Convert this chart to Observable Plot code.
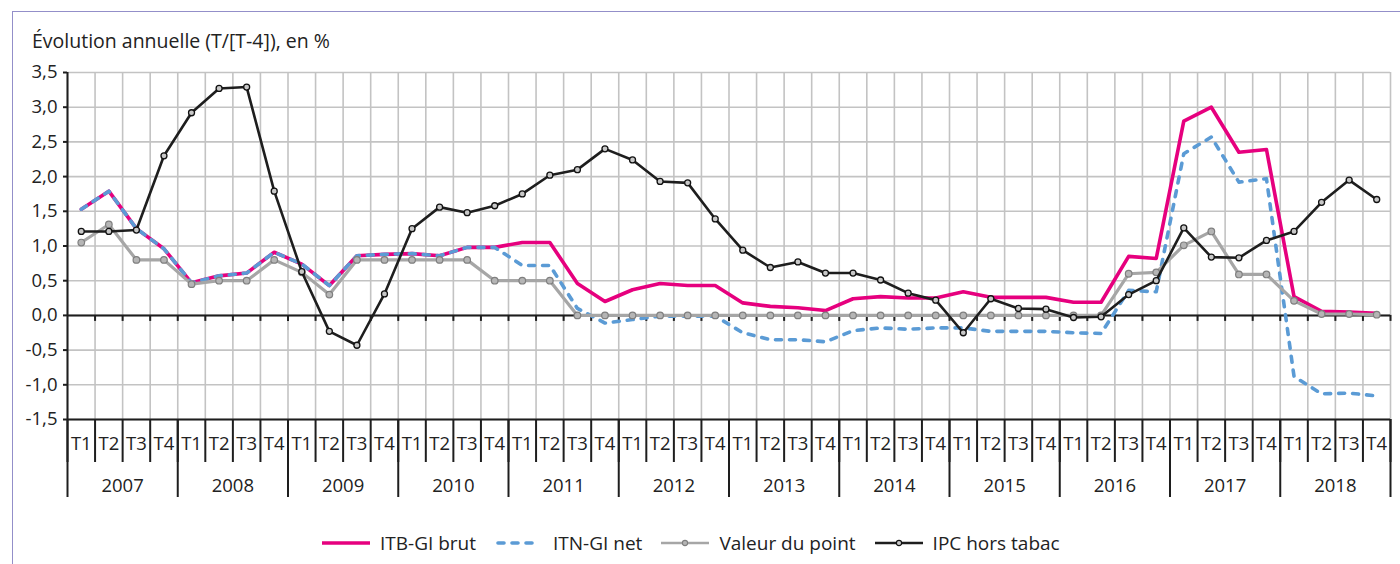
<!DOCTYPE html>
<html>
<head>
<meta charset="utf-8">
<script src="https://cdn.jsdelivr.net/npm/d3@7"></script>
<script src="https://cdn.jsdelivr.net/npm/@observablehq/plot@0.6"></script>
<style>
  html, body { margin: 0; padding: 0; background: #fff; }
  #wrap { position: relative; width: 1400px; height: 564px; overflow: hidden; font-family: "Open Sans", Lato, sans-serif; color: #222; }
  #frame { position: absolute; left: 12px; top: 11px; width: 1420px; height: 620px; border: 1.5px solid #938fc9; box-sizing: border-box; }
  #title { position: absolute; left: 32px; top: 29px; font-size: 19.5px; line-height: 24px; white-space: nowrap; }
  #chart { position: absolute; left: 0; top: 56px; }
  #legend { position: absolute; left: 322px; top: 531px; display: flex; align-items: center; gap: 19px; font-size: 19px; line-height: 24px; white-space: nowrap; }
  #legend .item { display: flex; align-items: center; gap: 10px; }
  #legend svg { display: block; }
</style>
</head>
<body>
<div id="wrap">
  <div id="frame"></div>
  <div id="title">Évolution annuelle (T/[T-4]), en %</div>
  <div id="chart"></div>
  <div id="legend"></div>
</div>
<script>
const years = ["2007","2008","2009","2010","2011","2012","2013","2014","2015","2016","2017","2018"];
const quarters = ["T1","T2","T3","T4"];
const yTicks = [-1.5, -1.0, -0.5, 0.0, 0.5, 1.0, 1.5, 2.0, 2.5, 3.0, 3.5];

const seriesNames = ["ITB-GI brut", "ITN-GI net", "Valeur du point", "IPC hors tabac"];

const itbBrut = [
  1.53, 1.79, 1.25, 0.96,
  0.47, 0.57, 0.61, 0.91,
  0.74, 0.43, 0.86, 0.88,
  0.89, 0.86, 0.98, 0.98,
  1.05, 1.05, 0.46, 0.20,
  0.37, 0.46, 0.43, 0.43,
  0.18, 0.13, 0.11, 0.07,
  0.24, 0.27, 0.25, 0.25,
  0.34, 0.26, 0.26, 0.26,
  0.19, 0.19, 0.85, 0.82,
  2.80, 3.00, 2.35, 2.39,
  0.27, 0.06, 0.05, 0.03
];
const itnNet = [
  1.53, 1.79, 1.25, 0.96,
  0.47, 0.57, 0.61, 0.91,
  0.74, 0.43, 0.86, 0.88,
  0.89, 0.86, 0.98, 0.98,
  0.72, 0.72, 0.10, -0.11,
  -0.06, -0.01, -0.01, -0.01,
  -0.25, -0.35, -0.35, -0.38,
  -0.22, -0.18, -0.20, -0.18,
  -0.18, -0.23, -0.23, -0.23,
  -0.25, -0.26, 0.36, 0.34,
  2.33, 2.57, 1.92, 1.97,
  -0.88, -1.13, -1.12, -1.16
];
const valeurPoint = [
  1.05, 1.31, 0.80, 0.80,
  0.45, 0.50, 0.50, 0.80,
  0.62, 0.30, 0.80, 0.80,
  0.80, 0.80, 0.80, 0.50,
  0.50, 0.50, 0.00, 0.00,
  0.00, 0.00, 0.00, 0.00,
  0.00, 0.00, 0.00, 0.00,
  0.00, 0.00, 0.00, 0.00,
  0.00, 0.00, 0.00, 0.00,
  0.00, 0.00, 0.60, 0.62,
  1.01, 1.21, 0.59, 0.59,
  0.21, 0.02, 0.02, 0.01
];
const ipcHorsTabac = [
  1.21, 1.21, 1.23, 2.30,
  2.92, 3.27, 3.29, 1.79,
  0.63, -0.23, -0.43, 0.31,
  1.25, 1.56, 1.48, 1.58,
  1.75, 2.02, 2.10, 2.40,
  2.24, 1.93, 1.91, 1.39,
  0.94, 0.69, 0.77, 0.61,
  0.61, 0.51, 0.32, 0.22,
  -0.25, 0.24, 0.10, 0.09,
  -0.03, -0.02, 0.30, 0.50,
  1.26, 0.84, 0.83, 1.08,
  1.21, 1.63, 1.95, 1.67
];

const colors = { itb: "#e6007e", itn: "#5b9bd5", vdp: "#a6a6a6", ipc: "#1e1e1e" };

// build table
const rows = [];
years.forEach((yr, yi) => quarters.forEach((q, qi) => {
  const i = yi * quarters.length + qi;
  rows.push({ i, year: yr, q, itb: itbBrut[i], itn: itnNet[i], vdp: valeurPoint[i], ipc: ipcHorsTabac[i] });
}));
const nQ = rows.length;
const bounds = d3.range(nQ + 1);
const yearBounds = d3.range(years.length + 1).map(k => k * quarters.length);
const yearRows = years.map((y, k) => ({ y, c: k * quarters.length + quarters.length / 2 }));
const xc = d => d.i + 0.5;
const fmt = v => v.toFixed(1).replace(".", ",");

const plot = Plot.plot({
  width: 1400,
  height: 460,
  marginLeft: 67,
  marginRight: 10,
  marginTop: 16,
  marginBottom: 97,
  style: { fontFamily: "'Open Sans', Lato, sans-serif", fontSize: "18px", color: "#222", background: "transparent", overflow: "visible" },
  x: { domain: [0, nQ], axis: null, label: null },
  y: { domain: [yTicks[0], yTicks[yTicks.length - 1]], axis: null, label: null },
  marks: [
    Plot.ruleY(yTicks, { stroke: "#c3c3c3", strokeWidth: 1.6 }),
    Plot.ruleX(bounds, { stroke: "#c3c3c3", strokeWidth: 1.6 }),
    Plot.ruleY([yTicks[0]], { stroke: "#1e1e1e", strokeWidth: 2 }),
    Plot.ruleY([0], { stroke: "#1e1e1e", strokeWidth: 2 }),
    Plot.ruleX(bounds.slice(1), { y1: 0, y2: 0, insetBottom: -6, stroke: "#1e1e1e", strokeWidth: 2 }),
    Plot.ruleX([0], { stroke: "#1e1e1e", strokeWidth: 2 }),
    Plot.axisY(yTicks, { anchor: "left", label: null, tickSize: 4, tickPadding: 6, tickFormat: fmt, stroke: "#1e1e1e", strokeWidth: 2, fontSize: 18.5, fill: "#222" }),
    // series
    Plot.line(rows, { x: xc, y: "itb", stroke: colors.itb, strokeWidth: 3.6 }),
    Plot.line(rows, { x: xc, y: "itn", stroke: colors.itn, strokeWidth: 3.6, strokeDasharray: "6,8", strokeLinecap: "round" }),
    Plot.line(rows, { x: xc, y: "vdp", stroke: colors.vdp, strokeWidth: 3.2 }),
    Plot.dot(rows, { x: xc, y: "vdp", r: 3.3, fill: "#b5b5b5", stroke: "#7f7f7f", strokeWidth: 1.2 }),
    Plot.line(rows, { x: xc, y: "ipc", stroke: colors.ipc, strokeWidth: 2.6 }),
    Plot.dot(rows, { x: xc, y: "ipc", r: 3, fill: "#c8c8c8", stroke: "#111", strokeWidth: 1.3 }),
    // category axis
    Plot.axisX(bounds, { anchor: "bottom", label: null, tickSize: 43, tickFormat: () => "", stroke: "#1e1e1e", strokeWidth: 2 }),
    Plot.axisX(yearBounds, { anchor: "bottom", label: null, tickSize: 78, tickFormat: () => "", stroke: "#1e1e1e", strokeWidth: 2 }),
    Plot.text(rows, { x: xc, frameAnchor: "bottom", dy: 30, text: "q", fontSize: 18.5, fill: "#222" }),
    Plot.text(yearRows, { x: "c", frameAnchor: "bottom", dy: 72, text: "y", fontSize: 18.5, fill: "#222" })
  ]
});
document.getElementById("chart").appendChild(plot);

// legend
const legend = d3.select("#legend");
const items = [
  { name: seriesNames[0], color: colors.itb, w: 3.6, dash: null, marker: null },
  { name: seriesNames[1], color: colors.itn, w: 3.6, dash: "6,8", marker: null },
  { name: seriesNames[2], color: colors.vdp, w: 2.4, dash: null, marker: { fill: "#b5b5b5", stroke: "#7f7f7f" } },
  { name: seriesNames[3], color: colors.ipc, w: 2.6, dash: null, marker: { fill: "#c8c8c8", stroke: "#111" } }
];
items.forEach(it => {
  const d = legend.append("div").attr("class", "item");
  const s = d.append("svg").attr("width", 48).attr("height", 12);
  s.append("line").attr("x1", it.dash ? 3 : 0).attr("x2", it.dash ? 45 : 48).attr("y1", 6).attr("y2", 6)
    .attr("stroke", it.color).attr("stroke-width", it.w)
    .attr("stroke-dasharray", it.dash).attr("stroke-linecap", it.dash ? "round" : "butt");
  if (it.marker) s.append("circle").attr("cx", 24).attr("cy", 6).attr("r", 2.6)
    .attr("fill", it.marker.fill).attr("stroke", it.marker.stroke).attr("stroke-width", 1.1);
  d.append("span").text(it.name);
});
</script>
</body>
</html>
